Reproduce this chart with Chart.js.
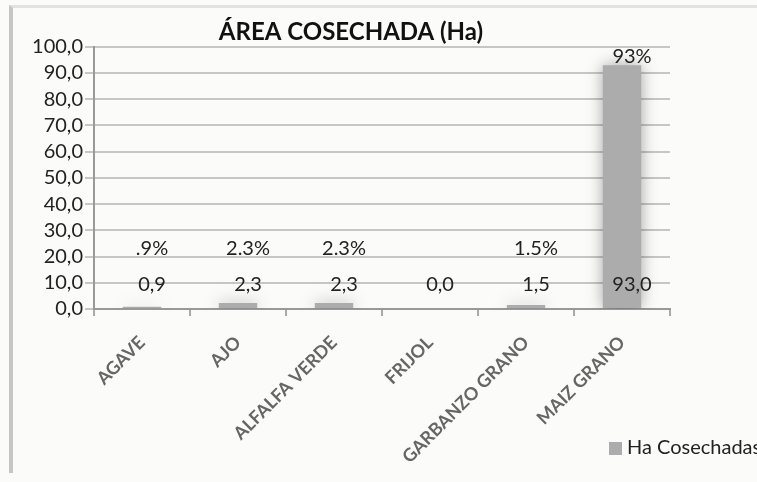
<!DOCTYPE html>
<html>
<head>
<meta charset="utf-8">
<script src="https://cdn.jsdelivr.net/npm/chart.js@4.4.1/dist/chart.umd.min.js"></script>
<style>
	html, body { margin: 0; padding: 0; background: #fbfbf9; overflow: hidden; }
	#wrap { position: relative; width: 757px; height: 482px; }
	#frame {
		position: absolute; left: 9px; top: 5px; width: 800px; height: 465px;
		border-left: 4px solid #c6c6c6; border-top: 3px solid #e2e2e2;
	}
	#areaChart { position: absolute; left: 0; top: 0; }
	#legend {
		position: absolute; left: 609px; top: 434px; white-space: nowrap;
		font: 20px Lato, sans-serif; color: #222;
	}
	#legend span {
		display: inline-block; width: 13px; height: 13px; background: #acacac;
		margin-right: 5px; vertical-align: -1px;
	}
</style>
</head>
<body>
<div id="wrap">
	<div id="frame"></div>
	<canvas id="areaChart" width="757" height="482"></canvas>
	<div id="legend"><span></span>Ha Cosechadas</div>
</div>
<script>
	const categories = ['AGAVE', 'AJO', 'ALFALFA VERDE', 'FRIJOL', 'GARBANZO GRANO', 'MAIZ GRANO'];
	const hectares = [0.9, 2.3, 2.3, 0.0, 1.5, 93.0];
	const shareLabels = ['.9%', '2.3%', '2.3%', '', '1.5%', '93%'];
	const yMin = 0;
	const yMax = 100;
	const yStep = 10;

	// levels (in axis units) where Excel parked the labels
	const valueLabelLevel = 9.5;
	const shareLabelLevel = 23;

	const formatComma = (v) => Number(v).toFixed(1).replace('.', ',');

	const barShadow = {
		id: 'barShadow',
		beforeDatasetDraw(chart) {
			const ctx = chart.ctx;
			ctx.save();
			ctx.shadowColor = 'rgba(0,0,0,0.35)';
			ctx.shadowBlur = 16;
		},
		afterDatasetDraw(chart) {
			chart.ctx.restore();
		}
	};

	const barLabels = {
		id: 'barLabels',
		afterDatasetsDraw(chart) {
			const ctx = chart.ctx;
			const y = chart.scales.y;
			const meta = chart.getDatasetMeta(0);
			ctx.save();
			ctx.font = '20px Lato, sans-serif';
			ctx.fillStyle = '#222';
			ctx.textAlign = 'center';
			ctx.textBaseline = 'middle';
			meta.data.forEach((bar, i) => {
				const x = bar.x + 10;
				ctx.fillText(formatComma(hectares[i]), x, y.getPixelForValue(valueLabelLevel));
				if (!shareLabels[i]) {
					return;
				}
				if (hectares[i] > shareLabelLevel - 5) {
					ctx.textBaseline = 'bottom';
					ctx.fillText(shareLabels[i], x, bar.y + 1);
					ctx.textBaseline = 'middle';
				} else {
					ctx.fillText(shareLabels[i], x, y.getPixelForValue(shareLabelLevel));
				}
			});
			ctx.restore();
		}
	};

	new Chart(document.getElementById('areaChart'), {
		type: 'bar',
		data: {
			labels: categories,
			datasets: [{
				label: 'Ha Cosechadas',
				data: hectares,
				backgroundColor: '#acacac',
				borderWidth: 0,
				categoryPercentage: 1,
				barPercentage: 0.4
			}]
		},
		options: {
			responsive: false,
			animation: false,
			layout: {
				padding: { left: 32, right: 87, top: 0, bottom: 0 }
			},
			plugins: {
				legend: { display: false },
				tooltip: { enabled: false },
				title: {
					display: true,
					text: 'ÁREA COSECHADA (Ha)',
					color: '#111',
					font: { family: 'Lato', size: 24, weight: 'bold', lineHeight: 1.2 },
					padding: { top: 18, bottom: 0 }
				}
			},
			scales: {
				x: {
					grid: {
						drawOnChartArea: false,
						tickLength: 7,
						color: '#aaa',
						lineWidth: 2
					},
					border: { color: '#999', width: 2 },
					ticks: {
						color: '#666',
						font: { family: 'Lato', size: 18, weight: 'bold' },
						maxRotation: 45,
						minRotation: 45,
						padding: 16,
						autoSkip: false
					},
					afterFit(scale) {
						scale.height = 173;
					}
				},
				y: {
					min: yMin,
					max: yMax,
					grid: {
						color: '#c6c6c6',
						lineWidth: 2,
						tickLength: 9
					},
					border: { color: '#999', width: 2 },
					ticks: {
						stepSize: yStep,
						autoSkip: false,
						color: '#222',
						padding: 2,
						font: { family: 'Lato', size: 20 },
						callback: (value) => formatComma(value)
					},
					afterFit(scale) {
						scale.width = 62;
					}
				}
			}
		},
		plugins: [barShadow, barLabels]
	});
</script>
</body>
</html>
